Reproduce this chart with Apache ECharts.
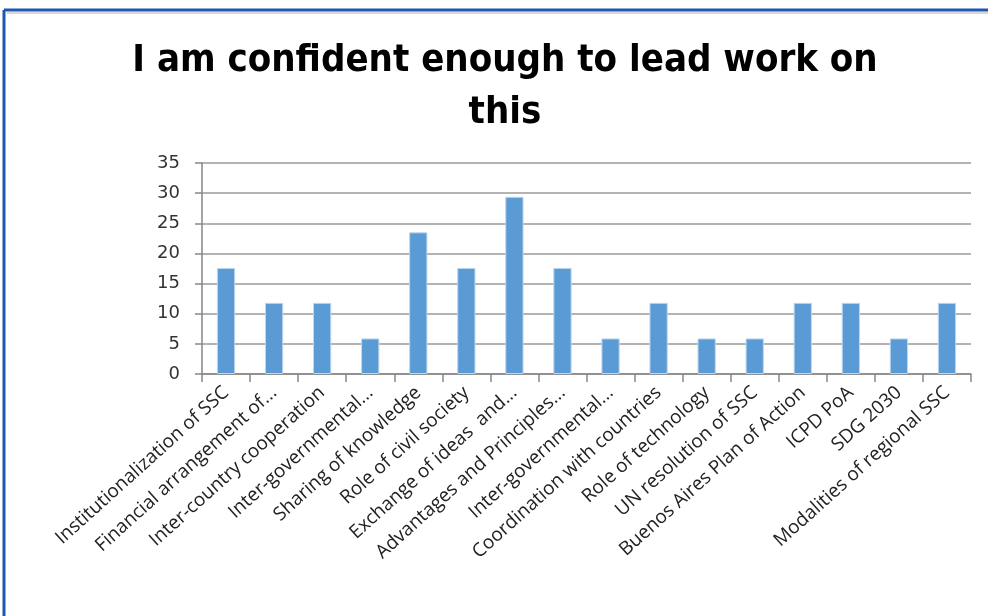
<!DOCTYPE html>
<html><head><meta charset="utf-8">
<script src="https://cdn.jsdelivr.net/npm/echarts@6/dist/echarts.min.js"></script>
<style>html,body{margin:0;padding:0;background:#fff}#c{width:988px;height:616px}</style>
</head><body><div id="c"></div>
<script>
const categories = ["Institutionalization of SSC","Financial arrangement of...","Inter-country cooperation","Inter-governmental...","Sharing of knowledge","Role of civil society","Exchange of ideas  and...","Advantages and Principles...","Inter-governmental...","Coordination with countries","Role of technology","UN resolution of SSC","Buenos Aires Plan of Action","ICPD PoA","SDG 2030","Modalities of regional SSC"];
const values = [17.6,11.8,11.8,5.9,23.5,17.6,29.4,17.6,5.9,11.8,5.9,5.9,11.8,11.8,5.9,11.8];
const yTicks = [0,5,10,15,20,25,30,35];
const titleText = "I am confident enough to lead work on\nthis";

const chart = echarts.init(document.getElementById('c'));
chart.setOption({
  animation:false,
  backgroundColor:'#fff',
  title:{text:titleText,left:500,top:30,textAlign:'center',
    textStyle:{fontFamily:"'Liberation Sans Narrow','DejaVu Sans Condensed',sans-serif",fontWeight:'bold',fontSize:38,lineHeight:52,color:'#000',align:'center'}},
  graphic:[
    {type:'line',shape:{x1:4,y1:10,x2:988,y2:10},style:{stroke:'#1F57B0',lineWidth:3}},
    {type:'line',shape:{x1:4,y1:10,x2:4,y2:616},style:{stroke:'#1F57B0',lineWidth:3}},
    {type:'line',shape:{x1:7,y1:13,x2:988,y2:13},style:{stroke:'#D8D8D8',lineWidth:2}}
  ],
  grid:{left:202,right:17,top:163,bottom:242},
  xAxis:{type:'category',data:categories,
    axisLine:{lineStyle:{color:'#868686',width:1.5}},
    axisTick:{show:true,alignWithLabel:false,length:8,lineStyle:{color:'#868686',width:1.5}},
    axisLabel:{rotate:42,interval:0,margin:16,fontFamily:"'Open Sans','DejaVu Sans',sans-serif",fontSize:19,color:'#222'}},
  yAxis:{type:'value',min:0,max:35,interval:5,
    axisLine:{show:true,lineStyle:{color:'#868686',width:1.5}},
    axisTick:{show:true,length:7,lineStyle:{color:'#868686',width:1.5}},
    splitLine:{lineStyle:{color:'#9A9A9A',width:1.5}},
    axisLabel:{margin:22,fontFamily:"'DejaVu Sans',sans-serif",fontSize:18,color:'#333',
      formatter:v=>yTicks.includes(v)?String(v):''}},
  series:[{type:'bar',data:values,barWidth:'38%',
    itemStyle:{color:'#5B9BD5',borderColor:'#BDD7EE',borderWidth:1}}]
});
</script></body></html>
